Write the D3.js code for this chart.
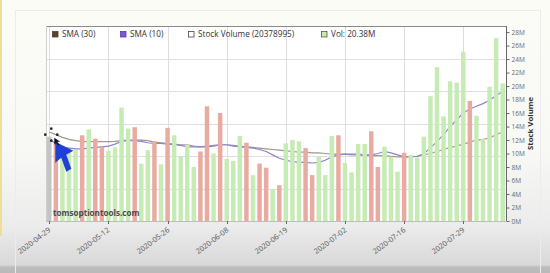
<!DOCTYPE html>
<html><head><meta charset="utf-8">
<script src="https://cdn.jsdelivr.net/npm/d3@7"></script>
<style>
html,body{margin:0;padding:0;width:550px;height:273px;overflow:hidden;}
body{background:linear-gradient(to bottom,#fcfcf7 0px,#f8f8f5 150px,#ececec 225px,#d8d8d8 265px,#bdbdbd 267px,#b9b9b9 273px);}
svg{display:block;}
text{font-family:"Open Sans","Liberation Sans",sans-serif;}
</style></head><body><svg id="c" width="550" height="273"></svg>
<script>
// ---- data ----
const dates=["2020-04-29","2020-04-30","2020-05-01","2020-05-04","2020-05-05","2020-05-06","2020-05-07","2020-05-08","2020-05-11","2020-05-12",
"2020-05-13","2020-05-14","2020-05-15","2020-05-18","2020-05-19","2020-05-20","2020-05-21","2020-05-22","2020-05-26","2020-05-27",
"2020-05-28","2020-05-29","2020-06-01","2020-06-02","2020-06-03","2020-06-04","2020-06-05","2020-06-08","2020-06-09","2020-06-10",
"2020-06-11","2020-06-12","2020-06-15","2020-06-16","2020-06-17","2020-06-18","2020-06-19","2020-06-22","2020-06-23","2020-06-24",
"2020-06-25","2020-06-26","2020-06-29","2020-06-30","2020-07-01","2020-07-02","2020-07-06","2020-07-07","2020-07-08","2020-07-09",
"2020-07-10","2020-07-13","2020-07-14","2020-07-15","2020-07-16","2020-07-17","2020-07-20","2020-07-21","2020-07-22","2020-07-23",
"2020-07-24","2020-07-27","2020-07-28","2020-07-29","2020-07-30","2020-07-31","2020-08-03","2020-08-04","2020-08-05","2020-08-06"];
// volume in millions
const volume=[12.5,11.5,10.6,10.4,10.5,12.7,13.6,12.2,11.0,10.4,
10.9,16.8,13.7,13.9,8.5,10.5,11.8,8.4,13.8,12.7,
9.5,11.3,8.0,10.3,17.0,10.0,16.0,9.2,8.9,12.6,
11.6,6.8,8.5,7.9,4.7,5.3,11.5,12.0,11.8,10.8,
6.8,9.5,6.8,12.6,12.7,8.6,7.2,11.4,11.4,13.3,
8.0,11.0,9.5,7.3,10.1,9.8,9.4,12.5,18.5,22.8,
15.5,20.7,20.5,25.1,17.8,15.6,12.2,19.9,27.1,20.378995];
// u = up day (green), d = down day (red)
const direction=["u","d","u","u","u","d","u","d","d","u",
"u","u","u","d","u","u","d","u","d","u",
"u","u","u","d","d","u","d","u","u","u",
"d","u","d","d","u","d","u","u","u","d",
"d","u","u","u","d","u","u","u","u","d",
"d","u","u","u","d","u","u","u","u","u",
"u","u","u","u","d","u","u","u","u","u"];
const sma30=[13.2,12.8,12.4,12.1,11.9,11.8,11.75,11.75,11.75,11.75,
11.8,11.9,12.0,12.0,12.0,11.9,11.7,11.6,11.5,11.4,
11.3,11.3,11.1,11.0,11.1,11.2,11.3,11.3,11.2,11.1,
11.0,10.9,10.8,10.7,10.6,10.5,10.4,10.3,10.2,10.2,
10.1,10.1,10.0,9.9,9.9,9.9,9.8,9.8,9.7,9.7,
9.7,9.7,9.6,9.5,9.5,9.5,9.6,9.8,10.0,10.3,
10.6,10.9,11.1,11.4,11.7,12.0,12.1,12.3,12.8,13.2];
const sma10=[12.2,11.4,10.9,10.8,10.7,10.7,10.8,10.9,11.0,11.1,
11.4,11.8,11.9,11.9,11.8,11.6,11.5,11.5,11.4,11.3,
11.2,11.0,11.0,11.0,11.0,11.1,11.3,11.3,11.1,11.0,
10.9,10.8,10.6,10.3,9.8,9.3,9.0,8.8,8.7,8.7,
8.6,8.7,9.0,9.5,9.8,9.9,9.9,9.9,9.8,9.8,
10.0,10.3,10.1,9.8,9.5,9.5,9.6,10.0,10.8,11.8,
12.8,14.0,15.0,16.0,16.6,17.0,17.4,17.9,18.6,19.2];
const tickDates=["2020-04-29","2020-05-12","2020-05-26","2020-06-08","2020-06-19","2020-07-02","2020-07-16","2020-07-29"];
const yTicks=[0,2,4,6,8,10,12,14,16,18,20,22,24,26,28];
const hoverIndex=0;

// ---- layout ----
const L=46,R=506,T=26,B=221;
const svg=d3.select("#c");
svg.append("rect").attr("x",15.5).attr("y",10.5).attr("width",525).attr("height",300).attr("fill","none").attr("stroke","#ececec");
svg.append("rect").attr("x",0).attr("y",0).attr("width",2).attr("height",236).attr("fill","#f1dc9a");
svg.append("rect").attr("x",L).attr("y",T).attr("width",R-L).attr("height",B-T).attr("fill","#fff");

const x=d3.scaleBand().domain(dates).range([L,R]).paddingInner(0.32).paddingOuter(0.16);
const bw=x.bandwidth();
const y=d3.scaleLinear().domain([0,28.9]).range([B,T]);

// grid
const g=svg.append("g");
d3.range(1,6).forEach(k=>{
  const yy=Math.round(T+(B-T)*k/6)+0.5;
  g.append("line").attr("x1",L).attr("x2",R).attr("y1",yy).attr("y2",yy).attr("stroke","#dedede");
});
tickDates.forEach(d=>{
  const xx=Math.round(x(d)+bw/2)+0.5;
  g.append("line").attr("x1",xx).attr("x2",xx).attr("y1",T).attr("y2",B).attr("stroke","#dedede");
});

// SMA lines (behind bars)
const line=arr=>d3.line().x((d,i)=>x(dates[i])+bw/2).y(d=>y(d))(arr);
svg.append("path").attr("d",line(sma30)).attr("fill","none").attr("stroke","#a3968c").attr("stroke-width",1.2);
svg.append("path").attr("d",line(sma10)).attr("fill","none").attr("stroke","#8c82d6").attr("stroke-width",1.2);

// bars
svg.append("g").selectAll("rect").data(volume).join("rect")
  .attr("x",(d,i)=>x(dates[i])).attr("width",bw)
  .attr("y",d=>y(d)).attr("height",d=>B-y(d))
  .attr("fill",(d,i)=>i===hoverIndex?"#c4c4c4":(direction[i]==="u"?"#c6ebb4":"#e8aaa1"));

// frame
svg.append("line").attr("x1",L).attr("x2",R).attr("y1",T+0.5).attr("y2",T+0.5).attr("stroke","#8a8a8a");
svg.append("line").attr("x1",L+0.5).attr("x2",L+0.5).attr("y1",T).attr("y2",B).attr("stroke","#cfcfcf");
svg.append("line").attr("x1",L).attr("x2",R).attr("y1",B+0.5).attr("y2",B+0.5).attr("stroke","#bdbdbd");

// right axis
const ya=svg.append("g").attr("transform",`translate(${R+0.5},0)`)
  .call(d3.axisRight(y).tickValues(yTicks).tickFormat(d=>d+"M").tickSize(3).tickPadding(2));
ya.select(".domain").attr("stroke","#666").attr("d",`M0,${T}V${B}`);
ya.selectAll(".tick line").attr("stroke","#666");
ya.selectAll(".tick text").attr("fill","#6a6a6a").style("font-size","6.5px").style("font-family","'Open Sans',sans-serif");
svg.append("text").attr("transform",`translate(533,${(T+B)/2}) rotate(-90)`).attr("text-anchor","middle")
  .attr("fill","#333").style("font-size","7.8px").style("font-weight","bold").text("Stock Volume");

// bottom ticks + labels
const xa=svg.append("g");
tickDates.forEach(d=>{
  const xx=Math.round(x(d)+bw/2)+0.5;
  xa.append("line").attr("x1",xx).attr("x2",xx).attr("y1",B).attr("y2",B+3).attr("stroke","#666");
  xa.append("text").attr("transform",`translate(${xx},${B+8}) rotate(-37)`).attr("text-anchor","end")
    .attr("dy","0.35em").attr("fill","#555").style("font-size","7.4px").text(d);
});

// watermark
svg.append("text").attr("x",53).attr("y",216).attr("fill","#4a4a4a").style("font-size","8.1px").style("font-weight","bold").text("tomsoptiontools.com");

// legend
const last=volume[volume.length-1];
const legend=[
  {c:"#5a4030",s:"#5a4030",t:"SMA (30)",x:52},
  {c:"#7a58d8",s:"#5a3fb0",t:"SMA (10)",x:120},
  {c:"#fff",s:"#444",t:`Stock Volume (${Math.round(last*1e6)})`,x:188},
  {c:"#c6ebb4",s:"#555",t:`Vol: ${last.toFixed(2)}M`,x:321}
];
legend.forEach(l=>{
  svg.append("rect").attr("x",l.x+0.5).attr("y",31.5).attr("width",5.5).attr("height",5.5).attr("fill",l.c).attr("stroke",l.s).attr("stroke-width",0.8);
  svg.append("text").attr("x",l.x+10).attr("y",37.3).attr("fill","#333").style("font-size","8.2px").text(l.t);
});

// mouse cursor (hover) near first bar
const cx=x(dates[hoverIndex])+bw/2+6, cy=y(volume[hoverIndex])+5;
svg.append("path").attr("d",`M${cx},${cy} L${cx+18},${cy+9} L${cx+11},${cy+13} L${cx+16},${cy+27} L${cx+11},${cy+30} L${cx+6},${cy+16} L${cx},${cy+21} Z`)
  .attr("fill","#1f3fd6");
svg.append("path").attr("d",`M${cx-1},${cy-4} l0,7 l2,-2 l2,3 l1,-1 l-2,-3 l3,0 Z`).attr("fill","#111");
[[-5,-3],[1,-9],[7,-3],[1,3]].forEach(p=>svg.append("circle").attr("cx",cx-5+p[0]).attr("cy",cy-4+p[1]).attr("r",1.3).attr("fill","#222"));
</script>
</body></html>
